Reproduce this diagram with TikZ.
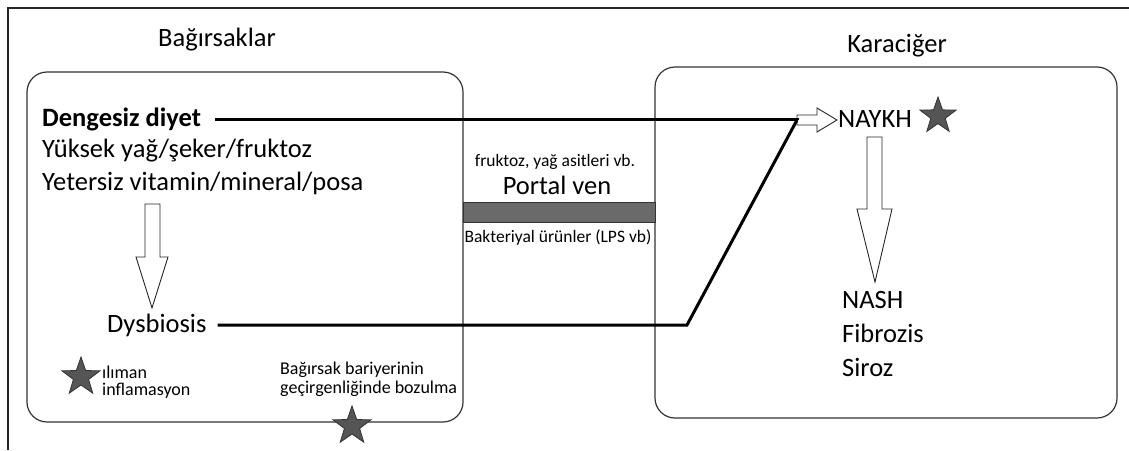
\documentclass[tikz,border=0pt]{standalone}
\usepackage{fontspec}
\setmainfont{Carlito}
\usetikzlibrary{shapes.geometric}
\definecolor{stargray}{HTML}{555555}
\definecolor{bandgray}{HTML}{6A6A6A}
\tikzset{
  box/.style={draw=black!80, line width=1.2pt, rounded corners=20pt},
  frame/.style={draw=black!85, line width=1.5pt},
  conn/.style={draw=black, line width=3pt},
  openarrow/.style={draw=black!85, line width=0.9pt, fill=white},
  mystar/.style={star, star points=5, star point ratio=2.5, minimum size=#1, inner sep=0pt, draw=black!80, fill=stargray, line width=0.8pt},
  txt/.style={inner sep=0pt, font=\fontsize{26.5}{28}\selectfont},
  small/.style={inner sep=0pt, font=\fontsize{17.5}{19}\selectfont},
  note/.style={inner sep=0pt, font=\fontsize{18}{20}\selectfont},
}
\begin{document}
\begin{tikzpicture}[x=1pt,y=-1pt]
\useasboundingbox (0,0) rectangle (1129,450);
% outer frame lines
\draw[frame] (8,450) -- (8,8) -- (1129,8);
% boxes
\draw[box] (27,72) rectangle (463,422);
\draw[box] (655,67) rectangle (1117,418);
% portal band
\fill[bandgray, draw=black!80, line width=0.8pt] (463,202) rectangle (655,222);
% titles
\node[txt] (t1) at (217,40) {Bağırsaklar};
\node[txt] (t2) at (897,46) {Karaciğer};
% left texts
\node[txt, anchor=west, font=\fontsize{26.5}{28}\selectfont\bfseries] (diet) at (42,119) {Dengesiz diyet};
\node[txt, anchor=west] (yuk) at (42,151) {Yüksek yağ/şeker/fruktoz};
\node[txt, anchor=west] (yet) at (42,183) {Yetersiz vitamin/mineral/posa};
\node[txt, anchor=west] (dys) at (107,325) {Dysbiosis};
% middle texts
\node[small] (fru) at (555,162) {fruktoz, yağ asitleri vb.};
\node[txt] (portal) at (557,185) {Portal ven};
\node[small] (bak) at (558,238) {Bakteriyal ürünler (LPS vb)};
% right texts
\node[txt, anchor=west] (naykh) at (838,119) {NAYKH};
\node[txt, anchor=west] (nash) at (842,300) {NASH};
\node[txt, anchor=west] (fib) at (842,333) {Fibrozis};
\node[txt, anchor=west] (sir) at (842,367) {Siroz};
% notes
\node[note, anchor=west] (ilim) at (102,372) {ılıman};
\node[note, anchor=west] (infl) at (102,391) {inflamasyon};
\node[note, anchor=west] (bar1) at (280,370) {Bağırsak bariyerinin};
\node[note, anchor=west] (bar2) at (280,389) {geçirgenliğinde bozulma};
% stars
\node[mystar=40pt] (s1) at (81,377) {};
\node[mystar=40pt] (s2) at (352,426) {};
\node[mystar=38pt] (s3) at (938,116) {};
% open arrows
\draw[openarrow] (145,204) -- (160,204) -- (160,257) -- (168,257) -- (152,308) -- (136,257) -- (145,257) -- cycle;
\draw[openarrow] (867,137) -- (882,137) -- (882,209) -- (892,209) -- (875,282) -- (857,209) -- (867,209) -- cycle;
\coordinate (ja) at (797,120);
\draw[openarrow] (797,115) -- (817,115) -- (817,108) -- (837,120) -- (817,132) -- (817,125) -- (797,125) -- cycle;
% connectors
\coordinate (bend) at (687,325);
\draw[conn] (diet.east) ++(14,0) coordinate (d0) -- (d0 -| ja) -- (ja);
\draw[conn, line join=miter] (dys.east) ++(11,0) coordinate (y0) -- (bend) -- (ja);
\end{tikzpicture}
\end{document}
